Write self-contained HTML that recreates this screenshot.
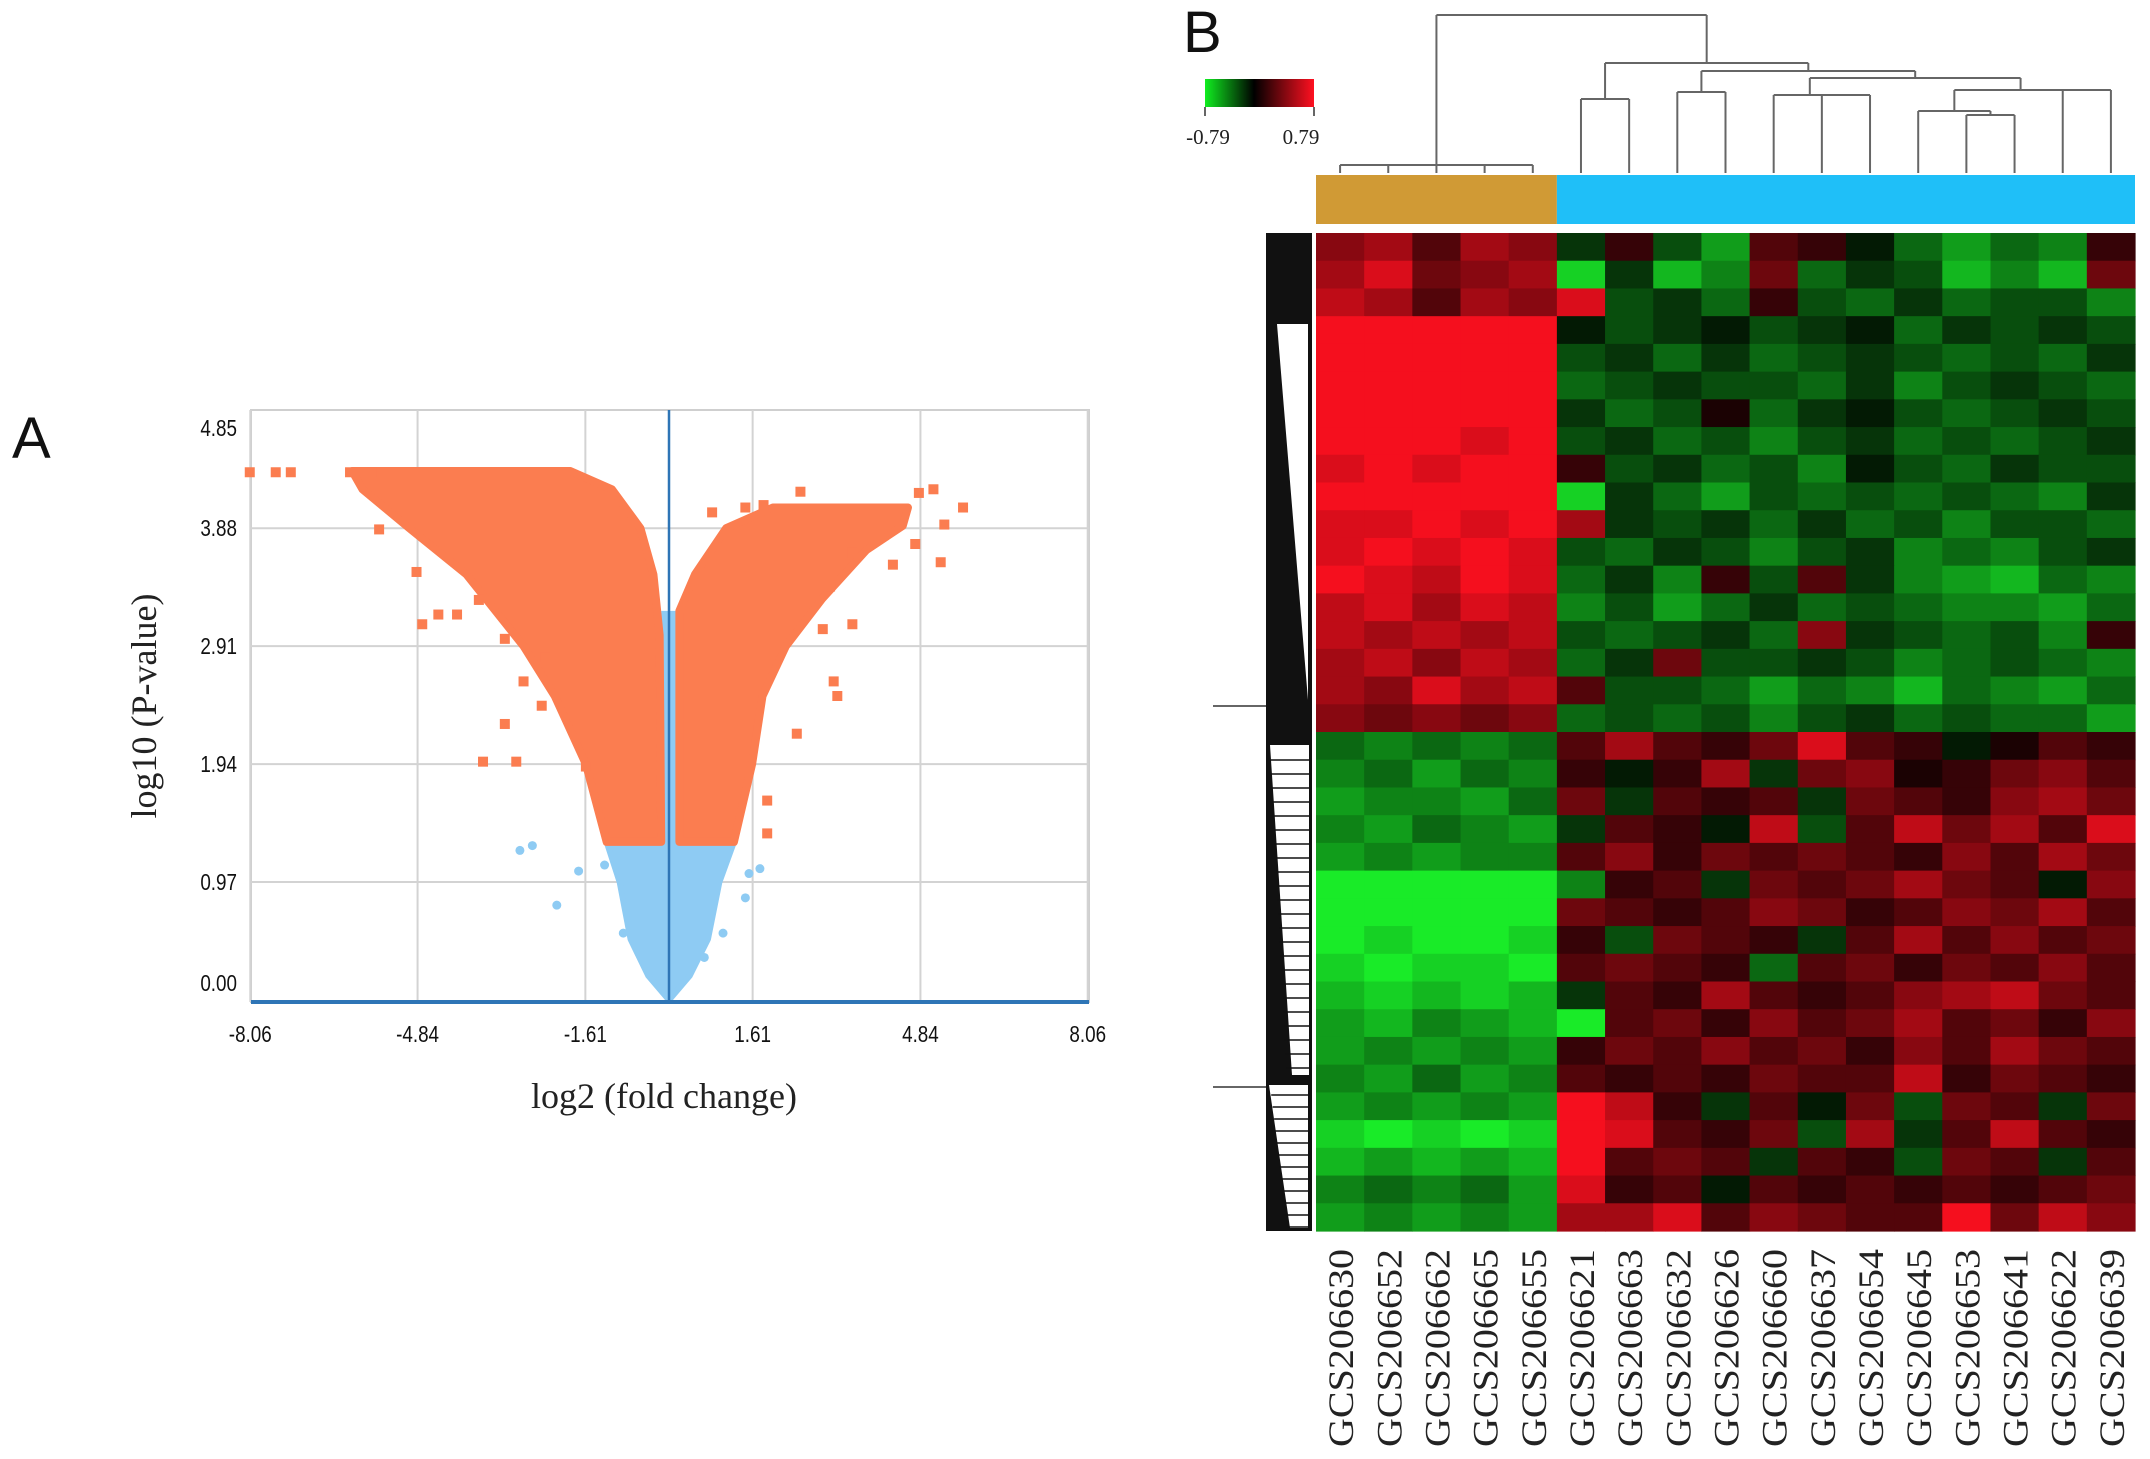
<!DOCTYPE html>
<html><head><meta charset="utf-8"><style>
html,body{margin:0;padding:0;background:#fff;}
svg{display:block;}
.tk{font-family:"Liberation Sans",sans-serif;font-size:23px;fill:#111;}
.ser{font-family:"Liberation Serif",serif;fill:#222;}
</style></head><body>
<svg id="fig" width="2150" height="1459" viewBox="0 0 2150 1459" xmlns="http://www.w3.org/2000/svg">
<rect width="2150" height="1459" fill="#fff"/>
<text x="12" y="458" font-family="Liberation Sans,sans-serif" font-size="58" fill="#111">A</text>
<text x="1183" y="52" font-family="Liberation Sans,sans-serif" font-size="58" fill="#111">B</text>
<g id="volcano"></g>
<g id="heat"></g>
</svg>
<script>
// ---------- Volcano data ----------
const xTicks = [-8.06, -4.84, -1.61, 1.61, 4.84, 8.06];
const yTicks = [0.00, 0.97, 1.94, 2.91, 3.88, 4.85];
const leftOuterY = [1.3, 1.94, 2.5, 2.91, 3.5, 3.88, 4.2, 4.35];
const leftOuterX = [-1.2, -1.6, -2.2, -2.8, -3.9, -5.0, -5.9, -6.1];
const leftInnerY = [4.35, 4.2, 3.88, 3.5, 3.0, 1.3];
const leftInnerX = [-1.9, -1.1, -0.55, -0.3, -0.18, -0.15];
const rightOuterY = [1.3, 1.94, 2.5, 2.91, 3.3, 3.7, 3.9, 4.05];
const rightOuterX = [1.25, 1.6, 1.8, 2.25, 2.95, 3.8, 4.5, 4.6];
const rightInnerY = [4.05, 3.88, 3.5, 3.2, 1.3];
const rightInnerX = [2.0, 1.1, 0.5, 0.2, 0.2];
const blueY = [0, 0.2, 0.5, 0.97, 1.3];
const blueLeftX = [0, -0.4, -0.74, -0.95, -1.2];
const blueRightX = [0, 0.4, 0.75, 0.97, 1.25];
const orangeOutX = [-8.07,-7.57,-7.28,-6.14,-5.72,-5.58,-4.86,-4.75,-4.44,-4.08,-3.66,-3.16,-3.58,-2.94,-3.16,-2.8,-2.45,-2.38,-1.6,2.53,4.81,5.09,5.66,5.23,5.3,4.74,4.31,3.53,3.1,3.53,2.96,3.17,3.24,2.46,1.89,1.89,0.83,1.47,1.82];
const orangeOutY = [4.34,4.34,4.34,4.34,4.34,3.87,3.52,3.09,3.17,3.17,3.29,2.97,1.96,1.96,2.27,2.62,2.42,2.82,1.92,4.18,4.17,4.2,4.05,3.6,3.91,3.75,3.58,3.68,3.4,3.09,3.05,2.62,2.5,2.19,1.64,1.37,4.01,4.05,4.07];
const blueOutX = [-2.87,-2.63,-2.16,-1.74,-1.24,1.54,1.75,1.47,1.04,0.68,-0.88];
const blueOutY = [1.23,1.27,0.78,1.06,1.11,1.04,1.08,0.84,0.55,0.35,0.55];

// ---------- Heatmap data ----------
const samples = ["GCS206630","GCS206652","GCS206662","GCS206665","GCS206655","GCS206621","GCS206663","GCS206632","GCS206626","GCS206660","GCS206637","GCS206654","GCS206645","GCS206653","GCS206641","GCS206622","GCS206639"];
const groupA = 5;
const r00=[5,6,3,6,5,-2,2,-3,-6,3,2,-1,-4,-6,-4,-5,2];
const r01=[6,8,4,5,6,-8,-2,-7,-5,4,-4,-2,-3,-7,-5,-7,4];
const r02=[7,6,3,6,5,8,-3,-2,-4,2,-3,-4,-2,-4,-3,-3,-5];
const r03=[9,9,9,9,9,-1,-3,-2,-1,-3,-2,-1,-4,-2,-3,-2,-3];
const r04=[9,9,9,9,9,-3,-2,-4,-2,-4,-3,-2,-3,-4,-3,-4,-2];
const r05=[9,9,9,9,9,-4,-3,-2,-3,-3,-4,-2,-5,-3,-2,-3,-4];
const r06=[9,9,9,9,9,-2,-4,-3,1,-4,-2,-1,-3,-4,-3,-2,-3];
const r07=[9,9,9,8,9,-3,-2,-4,-3,-5,-3,-2,-4,-3,-4,-3,-2];
const r08=[8,9,8,9,9,2,-3,-2,-4,-3,-5,-1,-3,-4,-2,-3,-3];
const r09=[9,9,9,9,9,-8,-2,-4,-6,-3,-4,-3,-4,-3,-4,-5,-2];
const r10=[8,8,9,8,9,6,-2,-3,-2,-4,-2,-4,-3,-5,-3,-3,-4];
const r11=[8,9,8,9,8,-3,-4,-2,-3,-5,-3,-2,-5,-4,-5,-3,-2];
const r12=[9,8,7,9,8,-4,-2,-5,2,-3,3,-2,-5,-6,-7,-4,-5];
const r13=[7,8,6,8,7,-5,-3,-6,-4,-2,-4,-3,-4,-5,-5,-6,-4];
const r14=[7,6,7,6,7,-3,-4,-3,-2,-4,5,-2,-3,-4,-3,-5,2];
const r15=[6,7,5,7,6,-4,-2,4,-3,-3,-2,-3,-5,-4,-3,-4,-5];
const r16=[6,5,8,6,7,3,-3,-3,-4,-6,-4,-5,-7,-4,-5,-6,-4];
const r17=[5,4,5,4,5,-4,-3,-4,-3,-5,-3,-2,-4,-3,-4,-4,-6];
const r18=[-4,-5,-4,-5,-4,3,6,3,2,4,8,3,2,-1,1,3,2];
const r19=[-5,-4,-6,-4,-5,2,-1,2,6,-2,4,5,1,2,4,5,3];
const r20=[-6,-5,-5,-6,-4,4,-2,3,2,3,-2,4,3,2,5,6,4];
const r21=[-5,-6,-4,-5,-6,-2,3,2,-1,7,-3,3,7,4,6,3,8];
const r22=[-6,-5,-6,-5,-5,3,5,2,4,3,4,3,2,5,3,6,4];
const r23=[-9,-9,-9,-9,-9,-5,2,3,-2,4,3,4,6,4,3,-1,5];
const r24=[-9,-9,-9,-9,-9,4,3,2,3,5,4,2,3,5,4,6,3];
const r25=[-9,-8,-9,-9,-8,2,-3,4,3,2,-2,3,6,3,5,3,4];
const r26=[-8,-9,-8,-8,-9,3,4,3,2,-4,3,4,2,4,3,5,3];
const r27=[-7,-8,-7,-8,-7,-2,3,2,6,3,2,3,5,6,7,4,3];
const r28=[-6,-7,-5,-6,-7,-9,3,4,2,5,3,4,6,3,4,2,5];
const r29=[-6,-5,-6,-5,-6,2,4,3,5,3,4,2,5,3,6,4,3];
const r30=[-5,-6,-4,-6,-5,3,2,3,2,4,3,3,7,2,4,3,2];
const r31=[-6,-5,-6,-5,-6,9,7,2,-2,3,-1,4,-3,4,3,-2,4];
const r32=[-8,-9,-8,-9,-8,9,8,3,2,4,-3,6,-2,3,7,3,2];
const r33=[-7,-6,-7,-6,-7,9,3,4,3,-2,3,2,-3,4,3,-2,3];
const r34=[-5,-4,-5,-4,-6,8,2,3,-1,3,2,3,2,3,2,3,4];
const r35=[-6,-5,-6,-5,-6,6,6,8,3,5,4,3,3,9,4,7,5];
const matrix=[r00,r01,r02,r03,r04,r05,r06,r07,r08,r09,r10,r11,r12,r13,r14,r15,r16,r17,r18,r19,r20,r21,r22,r23,r24,r25,r26,r27,r28,r29,r30,r31,r32,r33,r34,r35];
const legendLabels = ["-0.79","0.79"];

const NS="http://www.w3.org/2000/svg";
function mk(tag, attrs, parent){const e=document.createElementNS(NS,tag);for(const k in attrs)e.setAttribute(k,attrs[k]);parent.appendChild(e);return e;}

// ---------- Volcano ----------
const V=document.getElementById('volcano');
const PX0=251, PX1=1089, PY0=410, PY1=1002;
const sx = v => 669 + v*51.95;
const sy = v => 1000 - v*121.6;
let e=mk('rect',{x:PX0,y:PY0,width:PX1-PX0,height:PY1-PY0,fill:'#fff',stroke:'#cfcfcf','stroke-width':2},V);


xTicks.forEach((t,i)=>{
  const l=mk('line',{x1:sx(t),x2:sx(t),y1:PY0,y2:PY1,stroke:'#d3d3d3','stroke-width':2},V);
  
  
  const tx=mk('text',{x:sx(t),y:1042,'text-anchor':'middle',class:'tk',transform:`translate(${sx(t)},0) scale(0.82,1) translate(${-sx(t)},0)`},V);
  tx.textContent=t.toFixed(2);
  
  
});
const yLabelY=[983,882,764,646,528,428];
yTicks.forEach((t,i)=>{
  if(i>0&&i<5){const l=mk('line',{x1:PX0,x2:PX1,y1:sy(t),y2:sy(t),stroke:'#d3d3d3','stroke-width':2},V);
  
  }
  const tx=mk('text',{x:237,y:yLabelY[i]+8,'text-anchor':'end',class:'tk',transform:`translate(237,0) scale(0.82,1) translate(-237,0)`},V);
  tx.textContent=t.toFixed(2);
  
  
});
function poly(xs1,ys1,xs2,ys2){let p=[];xs1.forEach((x,i)=>p.push(sx(x)+','+sy(ys1[i])));xs2.forEach((x,i)=>p.push(sx(x)+','+sy(ys2[i])));return p.join(' ');}
e=mk('polygon',{points:poly(blueLeftX,blueY,blueRightX.slice().reverse(),blueY.slice().reverse()),fill:'#8ecbf3',stroke:'#8ecbf3','stroke-width':6,'stroke-linejoin':'round'},V);


e=mk('polygon',{points:poly([-0.15,-0.15,0.2,0.2],[1.3,3.2,3.2,1.3],[],[]),fill:'#8ecbf3'},V);


e=mk('polygon',{points:poly(leftOuterX,leftOuterY,leftInnerX,leftInnerY),fill:'#fb7d50',stroke:'#fb7d50','stroke-width':8,'stroke-linejoin':'round'},V);


e=mk('polygon',{points:poly(rightOuterX,rightOuterY,rightInnerX,rightInnerY),fill:'#fb7d50',stroke:'#fb7d50','stroke-width':8,'stroke-linejoin':'round'},V);


orangeOutX.forEach((x,i)=>{const r=mk('rect',{x:sx(x)-5,y:sy(orangeOutY[i])-5,width:10,height:10,fill:'#fb7d50'},V);
  
  });
blueOutX.forEach((x,i)=>{const c=mk('circle',{cx:sx(x),cy:sy(blueOutY[i]),r:4.5,fill:'#8ecbf3'},V);
  
  });
e=mk('line',{x1:669,x2:669,y1:PY0,y2:PY1,stroke:'#2e75b6','stroke-width':2.5},V);


e=mk('line',{x1:PX0,x2:PX1,y1:1002,y2:1002,stroke:'#2e75b6','stroke-width':4},V);


e=mk('text',{x:664,y:1108,'text-anchor':'middle',class:'ser','font-size':36},V);
e.textContent='log2 (fold change)';


e=mk('text',{x:0,y:0,'text-anchor':'middle',class:'ser','font-size':36,transform:'translate(156,706) rotate(-90)'},V);
e.textContent='log10 (P-value)';



// ---------- Heatmap ----------
const H=document.getElementById('heat');
const HX0=1316, HX1=2135, HY0=233, HY1=1231;
const cw=(HX1-HX0)/samples.length, rh=(HY1-HY0)/matrix.length;
const cx = i => HX0 + cw*(i+0.5);
function col(v){const t=Math.min(1,Math.abs(v)/9);return v>=0?`rgb(${Math.round(245*t)},${Math.round(15*t)},${Math.round(30*t)})`:`rgb(${Math.round(25*t)},${Math.round(235*t)},${Math.round(40*t)})`;}
matrix.forEach((row,r)=>row.forEach((v,c)=>{
  const el=mk('rect',{x:HX0+c*cw,y:HY0+r*rh,width:cw+0.6,height:rh+0.6,fill:col(v)},H);
  
  
}));
e=mk('rect',{x:HX0,y:175,width:cw*groupA,height:49,fill:'#d09a35'},H);


e=mk('rect',{x:HX0+cw*groupA,y:175,width:HX1-HX0-cw*groupA,height:49,fill:'#1fbff8'},H);


samples.forEach((s,i)=>{
  const t=mk('text',{x:0,y:0,class:'ser','font-size':36,textLength:198,lengthAdjust:'spacingAndGlyphs',transform:`translate(${cx(i)+13},1447) rotate(-90)`},H);
  t.textContent=s;
  
  
});
// column dendrogram
const dend = mk('g',{stroke:'#666','stroke-width':2,fill:'none'},H);


function seg(x1,y1,x2,y2){mk('path',{d:`M${x1},${y1}L${x2},${y2}`},dend);}
function u(a,b,y,ya,yb){seg(a,ya,a,y);seg(a,y,b,y);seg(b,y,b,yb);}
const LY=173;
u(cx(0),cx(4),165,LY,LY); for(let i=1;i<4;i++) seg(cx(i),165,cx(i),LY);
u(cx(5),cx(6),99,LY,LY);
u(cx(7),cx(8),92,LY,LY);
u(cx(10),cx(11),95,LY,LY);
u(cx(9),(cx(10)+cx(11))/2,95,LY,95);
u(cx(13),cx(14),115,LY,LY);
u(cx(12),(cx(13)+cx(14))/2,111,LY,115);
u(cx(15),cx(16),90,LY,LY);
const n1=(cx(12)+(cx(13)+cx(14))/2)/2, n2=(cx(15)+cx(16))/2;
u(n1,n2,90,111,90);
const n3=(cx(9)+(cx(10)+cx(11))/2)/2, n4=(n1+n2)/2;
u(n3,n4,78,95,90);
const n5=(cx(7)+cx(8))/2, n6=(n3+n4)/2;
u(n5,n6,71,92,78);
const n7=(cx(5)+cx(6))/2, n8=(n5+n6)/2;
u(n7,n8,63,99,71);
u((cx(0)+cx(4))/2,(n7+n8)/2,15,165,63);
// row dendrogram (stylised)
e=mk('path',{d:'M1266,233 L1312,233 L1312,1231 L1266,1231 Z',fill:'#111'},H);


e=mk('path',{d:'M1277,324 L1308,324 L1308,700 Z M1270,745 L1309,745 L1309,1075 L1292,1075 Z M1269,1085 L1308,1085 L1308,1228 L1290,1228 Z',fill:'#fff'},H);


const hair=mk('g',{stroke:'#111','stroke-width':1.5},H);


for(let y=760;y<1075;y+=14){mk('line',{x1:1270+(y-745)*0.05,x2:1309,y1:y,y2:y},hair);}
for(let y=1095;y<1228;y+=12){mk('line',{x1:1270+(y-1085)*0.12,x2:1308,y1:y,y2:y},hair);}
seg(1213,706,1266,706); seg(1213,1087,1266,1087);
// color legend
const grad=mk('linearGradient',{id:'lg',x1:0,x2:1,y1:0,y2:0},mk('defs',{},H));
[['0','#10ee20'],['0.45','#000'],['1','#ff1020']].forEach(s=>mk('stop',{offset:s[0],'stop-color':s[1]},grad));
e=mk('rect',{x:1205,y:79,width:109,height:28,fill:'url(#lg)'},H);


seg(1205,107,1205,116); seg(1314,107,1314,116);
legendLabels.forEach((l,i)=>{const t=mk('text',{x:i?1301:1208,y:144,'text-anchor':'middle',class:'ser','font-size':21},H);
  t.textContent=l;
  
  });
</script>
</body></html>
